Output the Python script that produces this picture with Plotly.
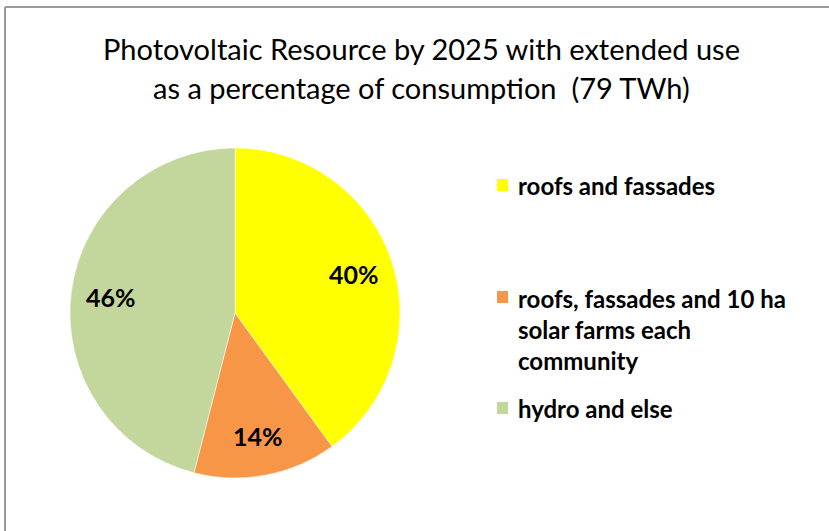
import math
import plotly.graph_objects as go

labels = ["roofs and fassades",
          "roofs, fassades and 10 ha<br>solar farms each<br>community",
          "hydro and else"]
values = [40, 14, 46]
colors = ["#FFFF00", "#F79646", "#C3D69B"]
title_lines = ["Photovoltaic Resource by 2025 with extended use",
               "as a percentage of consumption  (79 TWh)"]

W, H = 829, 531
FONT = "Lato"
CX, CY, R = 235, 313, 165

fig = go.Figure(go.Pie(
    labels=labels, values=values, sort=False, direction="clockwise", rotation=0,
    marker=dict(colors=colors, line=dict(color="white", width=0.5)),
    textinfo="none",
    domain=dict(x=[(CX - R) / W, (CX + R) / W], y=[1 - (CY + R) / H, 1 - (CY - R) / H]),
    showlegend=False, hoverinfo="label+percent",
))

# percentage labels placed along each slice's mid-angle (Excel-like position)
total = sum(values)
cum = 0
for v in values:
    mid = (cum + v / 2) / total * 2 * math.pi
    cum += v
    rr = 0.76 * R
    px = CX + rr * math.sin(mid)
    py = CY - rr * math.cos(mid)
    fig.add_annotation(x=px / W, y=1 - py / H, xref="paper", yref="paper",
                       text=f"{round(v / total * 100)}%", showarrow=False,
                       xanchor="center", yanchor="middle",
                       font=dict(family=FONT, size=25, color="black", weight="bold"))

# legend built from labels/colors
leg_y = [185, 297, 408]
leg_text_y = [185, 329, 408]
for lab, col, ym, yt in zip(labels, colors, leg_y, leg_text_y):
    fig.add_shape(type="rect", xref="paper", yref="paper",
                  x0=497 / W, x1=508 / W, y0=1 - (ym + 6) / H, y1=1 - (ym - 6) / H,
                  fillcolor=col, line=dict(width=0))
    fig.add_annotation(x=516 / W, y=1 - yt / H, xref="paper", yref="paper",
                       text=lab, showarrow=False, xanchor="left", yanchor="middle",
                       align="left", font=dict(family=FONT, size=24, color="black", weight="bold"))

for line, ty in zip(title_lines, [48, 88]):
    fig.add_annotation(x=421 / W, y=1 - ty / H, xref="paper", yref="paper",
                       text=line, showarrow=False,
                       xanchor="center", yanchor="middle", align="center",
                       font=dict(family=FONT, size=29, color="black"))

# frame lines (top and left)
fig.add_shape(type="line", xref="paper", yref="paper", x0=5 / W, x1=1, y0=1 - 7 / H, y1=1 - 7 / H,
              line=dict(color="#9a9a9a", width=2))
fig.add_shape(type="line", xref="paper", yref="paper", x0=5 / W, x1=5 / W, y0=0, y1=1 - 7 / H,
              line=dict(color="#9a9a9a", width=2))

fig.update_layout(width=W, height=H, margin=dict(l=0, r=0, t=0, b=0),
                  paper_bgcolor="white", plot_bgcolor="white")
fig.write_html("out.html")
